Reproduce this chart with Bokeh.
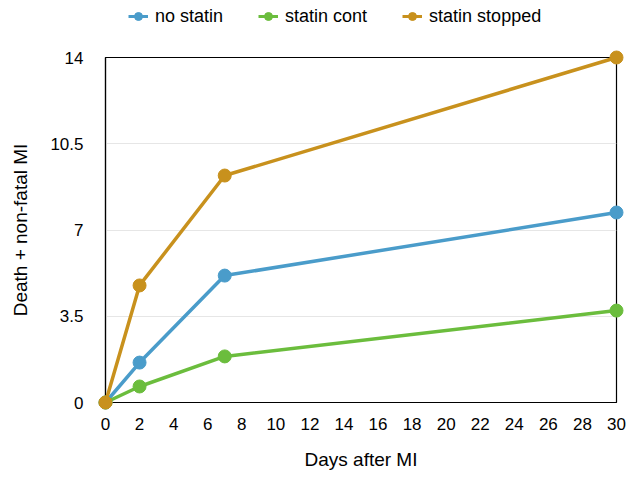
from bokeh.plotting import figure
from bokeh.models import Range1d, FixedTicker, Legend, LegendItem
from bokeh.layouts import column
from bokeh.embed import file_html
from bokeh.resources import INLINE

days = [0, 2, 7, 30]
no_statin = [0, 1.62, 5.15, 7.71]
statin_cont = [0, 0.65, 1.87, 3.73]
statin_stopped = [0, 4.75, 9.21, 14.0]
series_names = ["no statin", "statin cont", "statin stopped"]
colors = ["#4A9CCA", "#6BBD3D", "#C8911D"]
x_ticks = list(range(0, 31, 2))
y_ticks = [0, 3.5, 7, 10.5, 14]
y_tick_labels = ["0", "3.5", "7", "10.5", "14"]

FONT = "Liberation Sans"
LEG_H = 40

p = figure(width=632, height=475 - LEG_H, output_backend="svg", toolbar_location=None,
           x_range=Range1d(0, 30), y_range=Range1d(0, 14),
           min_border_left=105, min_border_right=16, min_border_top=57 - LEG_H, min_border_bottom=73)

p.outline_line_color="black"
p.outline_line_width=1.2
p.background_fill_color="white"
p.border_fill_color="white"

p.xgrid.grid_line_color=None
p.ygrid.grid_line_color="#E6E6E6"
p.ygrid.grid_line_width=1
p.xaxis.ticker = FixedTicker(ticks=x_ticks)
p.yaxis.ticker = FixedTicker(ticks=y_ticks)
p.yaxis.major_label_overrides = {t: l for t, l in zip(y_ticks, y_tick_labels)}
for ax in (p.xaxis[0], p.yaxis[0]):
    ax.major_tick_line_color=None
    ax.minor_tick_line_color=None
    ax.axis_line_color="black"
    ax.axis_line_width=1.2
    ax.major_label_text_font=FONT
    ax.major_label_text_font_size="17px"
    ax.major_label_text_color="#000000"
    ax.axis_label_text_font=FONT
    ax.axis_label_text_font_size="19px"
    ax.axis_label_text_font_style="normal"
    ax.axis_label_text_color="#000000"
p.xaxis.axis_label="Days after MI"
p.yaxis.axis_label="Death + non-fatal MI"
p.xaxis.major_label_standoff=9
p.yaxis.major_label_standoff=16
p.xaxis.axis_label_standoff=16
p.yaxis.axis_label_standoff=16

# legend strip above the chart (its renderers use the same data, kept out of view)
lf = figure(width=632, height=LEG_H, output_backend="svg", toolbar_location=None,
            x_range=Range1d(-200, -100), y_range=Range1d(-200, -100), min_border=0)
lf.axis.visible = False
lf.grid.visible = False
lf.outline_line_color = None

items=[]
for name, vals, c in zip(series_names, [no_statin, statin_cont, statin_stopped], colors):
    p.line(days, vals, line_color=c, line_width=3.5, level="overlay")
    p.scatter(days, vals, size=13, fill_color=c, line_color=c, level="overlay")
    ll = lf.line(days, vals, line_color=c, line_width=3)
    ls = lf.scatter(days, vals, size=11, fill_color=c, line_color=c)
    items.append(LegendItem(label=name, renderers=[ll, ls]))

legend = Legend(items=items, orientation="horizontal", location=(23, 12),
                border_line_color=None, background_fill_alpha=0,
                label_text_font=FONT, label_text_font_size="18px",
                label_text_color="#000000",
                glyph_width=20, glyph_height=24, label_standoff=7, spacing=35,
                padding=0, margin=0)
lf.add_layout(legend, "center")

open("out.html", "w").write(file_html(column(lf, p, spacing=0), INLINE))
